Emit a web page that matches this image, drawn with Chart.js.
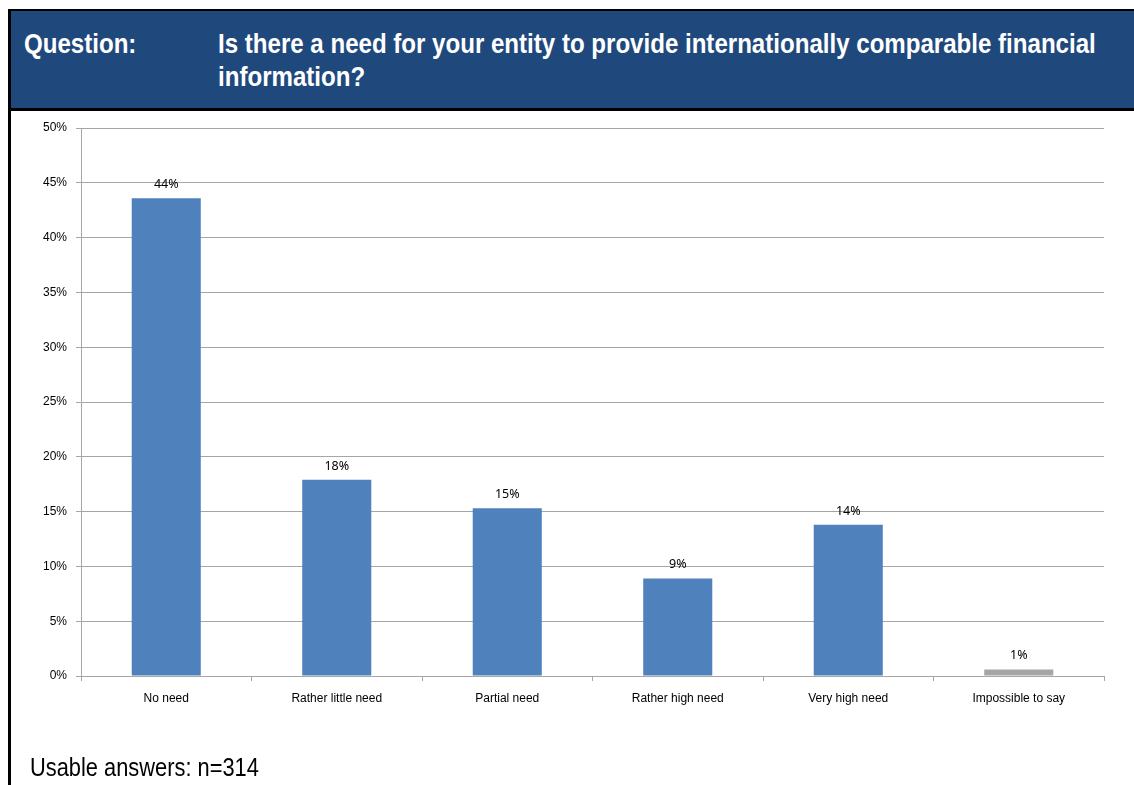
<!DOCTYPE html>
<html>
<head>
<meta charset="utf-8">
<script src="https://cdn.jsdelivr.net/npm/chart.js@4/dist/chart.umd.min.js"></script>
<style>
  html, body { margin: 0; padding: 0; background: #fff; }
  body { width: 1134px; height: 785px; position: relative; overflow: hidden; }
  #header {
    position: absolute; left: 8px; top: 9px; width: 1140px; height: 97px;
    background: #1f497d; border-top: 2px solid #000; border-bottom: 3px solid #000; border-left: 3px solid #000;
    color: #fff; font-family: "Liberation Sans", Arial, sans-serif;
    font-weight: bold; font-size: 28px; line-height: 33px;
  }
  .narrow { transform: scaleX(0.86); transform-origin: 0 0; white-space: nowrap; }
  #qlabel { position: absolute; left: 13px; top: 16px; }
  #qtext { position: absolute; left: 207px; top: 16px; }
  #leftrule { position: absolute; left: 8px; top: 110px; width: 3px; height: 680px; background: #000; }
  #note {
    position: absolute; left: 30px; top: 752px;
    font-family: "Liberation Sans", Arial, sans-serif;
    font-size: 26px; color: #000;
    transform: scaleX(0.84); transform-origin: 0 0; white-space: nowrap;
  }
  #chart { position: absolute; left: 0; top: 0; }
</style>
</head>
<body>
<canvas id="chart" width="1134" height="785"></canvas>
<div id="header">
  <div id="qlabel" class="narrow">Question:</div>
  <div id="qtext" class="narrow">Is there a need for your entity to provide internationally comparable financial<br>information?</div>
</div>
<div id="leftrule"></div>
<div id="note">Usable answers: n=314</div>
<script>
// Survey answers (share of respondents, %)
const categories = ['No need', 'Rather little need', 'Partial need', 'Rather high need', 'Very high need', 'Impossible to say'];
const shares = [43.6, 17.9, 15.3, 8.9, 13.8, 0.6];
const barColors = ['#4f81bd', '#4f81bd', '#4f81bd', '#4f81bd', '#4f81bd', '#a5a5a5'];
const yTicks = [0, 5, 10, 15, 20, 25, 30, 35, 40, 45, 50];

// Draws the rounded percentage above each bar
const valueLabels = {
  id: 'valueLabels',
  afterDatasetsDraw(chart) {
    const ctx = chart.ctx;
    const meta = chart.getDatasetMeta(0);
    ctx.save();
    ctx.font = '12.5px "Noto Sans", "Liberation Sans", sans-serif';
    ctx.fillStyle = '#000';
    ctx.textAlign = 'center';
    ctx.textBaseline = 'alphabetic';
    meta.data.forEach((bar, i) => {
      ctx.fillText(Math.round(shares[i]) + '%', bar.x, bar.y - 10);
    });
    ctx.restore();
  }
};

new Chart(document.getElementById('chart'), {
  type: 'bar',
  data: {
    labels: categories,
    datasets: [{
      data: shares,
      backgroundColor: barColors,
      borderWidth: 0,
      barPercentage: 0.405,
      categoryPercentage: 1
    }]
  },
  options: {
    responsive: false,
    animation: false,
    devicePixelRatio: 1,
    layout: { padding: { top: 128, right: 30, bottom: 69, left: 0 } },
    plugins: { legend: { display: false }, tooltip: { enabled: false } },
    scales: {
      x: {
        afterFit(scale) { scale.height = 40; },
        grid: { display: true, drawOnChartArea: false, drawTicks: true, tickLength: 5, color: '#a6a6a6', offset: true },
        border: { display: true, color: '#a6a6a6', width: 1 },
        ticks: {
          color: '#000', padding: 10,
          font: { family: '"Liberation Sans", Arial, sans-serif', size: 12 },
          maxRotation: 0
        }
      },
      y: {
        min: 0, max: 50,
        afterFit(scale) { scale.width = 81; },
        afterBuildTicks(scale) { scale.ticks = yTicks.map(v => ({ value: v })); },
        grid: { color: '#a6a6a6', tickLength: 5, drawTicks: true },
        border: { display: true, color: '#a6a6a6', width: 1 },
        ticks: {
          color: '#000', padding: 9,
          font: { family: '"Liberation Sans", Arial, sans-serif', size: 12 },
          callback: v => v + '%'
        }
      }
    }
  },
  plugins: [valueLabels]
});
</script>
</body>
</html>
